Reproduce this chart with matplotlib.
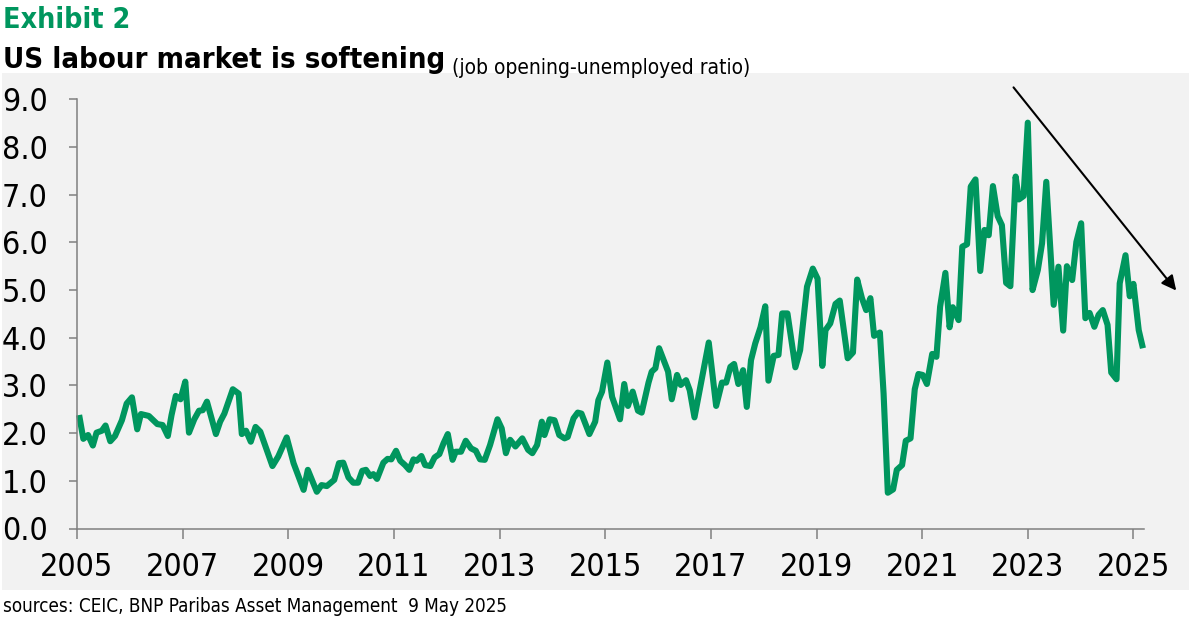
import matplotlib
matplotlib.use("Agg")
import matplotlib.pyplot as plt
from matplotlib.patches import Rectangle

# ratio des offres d'emploi / chômeurs (lecture graphique)
years = [
    2005.04, 2005.12, 2005.21, 2005.30, 2005.37, 2005.47, 2005.54, 2005.63, 2005.72, 2005.85,
    2005.94, 2006.04, 2006.14, 2006.21, 2006.36, 2006.52, 2006.62, 2006.72, 2006.79, 2006.87,
    2006.96, 2007.05, 2007.12, 2007.22, 2007.31, 2007.38, 2007.46, 2007.63, 2007.71, 2007.79,
    2007.95, 2008.06, 2008.12, 2008.20, 2008.29, 2008.38, 2008.47, 2008.70, 2008.81, 2008.97,
    2009.10, 2009.29, 2009.37, 2009.54, 2009.63, 2009.73, 2009.87, 2009.96, 2010.04, 2010.14,
    2010.23, 2010.32, 2010.40, 2010.47, 2010.55, 2010.61, 2010.68, 2010.80, 2010.88, 2010.95,
    2011.04, 2011.12, 2011.21, 2011.29, 2011.37, 2011.43, 2011.52, 2011.59, 2011.69, 2011.77,
    2011.86, 2011.94, 2012.02, 2012.11, 2012.17, 2012.27, 2012.36, 2012.46, 2012.55, 2012.63,
    2012.72, 2012.82, 2012.96, 2013.04, 2013.12, 2013.20, 2013.30, 2013.43, 2013.54, 2013.62,
    2013.71, 2013.80, 2013.85, 2013.95, 2014.04, 2014.13, 2014.23, 2014.29, 2014.40, 2014.48,
    2014.55, 2014.70, 2014.81, 2014.87, 2014.94, 2015.04, 2015.13, 2015.28, 2015.36, 2015.43,
    2015.52, 2015.62, 2015.69, 2015.82, 2015.88, 2015.95, 2016.02, 2016.19, 2016.26, 2016.36,
    2016.43, 2016.53, 2016.60, 2016.69, 2016.96, 2017.10, 2017.21, 2017.29, 2017.37, 2017.44,
    2017.52, 2017.61, 2017.68, 2017.76, 2017.84, 2017.94, 2018.03, 2018.09, 2018.19, 2018.28,
    2018.35, 2018.45, 2018.60, 2018.69, 2018.82, 2018.93, 2019.02, 2019.11, 2019.17, 2019.26,
    2019.36, 2019.44, 2019.59, 2019.69, 2019.77, 2019.86, 2019.94, 2020.02, 2020.09, 2020.20,
    2020.27, 2020.35, 2020.45, 2020.52, 2020.62, 2020.69, 2020.78, 2020.86, 2020.93, 2021.01,
    2021.09, 2021.19, 2021.27, 2021.34, 2021.44, 2021.52, 2021.58, 2021.69, 2021.76, 2021.85,
    2021.92, 2022.01, 2022.10, 2022.18, 2022.26, 2022.34, 2022.43, 2022.51, 2022.59, 2022.67,
    2022.77, 2022.83, 2022.92, 2023.00, 2023.09, 2023.19, 2023.27, 2023.35, 2023.49, 2023.58,
    2023.67, 2023.74, 2023.84, 2023.92, 2024.01, 2024.09, 2024.17, 2024.26, 2024.34, 2024.42,
    2024.51, 2024.58, 2024.68, 2024.74, 2024.85, 2024.93, 2025.00, 2025.10, 2025.18,
]
ratio = [
    2.38, 1.88, 1.96, 1.74, 2.01, 2.05, 2.16, 1.83, 1.94, 2.27,
    2.62, 2.75, 2.08, 2.40, 2.36, 2.19, 2.17, 1.94, 2.38, 2.78,
    2.71, 3.08, 2.01, 2.29, 2.47, 2.48, 2.66, 1.98, 2.24, 2.41,
    2.92, 2.83, 1.98, 2.05, 1.82, 2.13, 2.03, 1.31, 1.51, 1.91,
    1.37, 0.81, 1.23, 0.77, 0.91, 0.89, 1.02, 1.37, 1.38, 1.07,
    0.96, 0.96, 1.21, 1.23, 1.10, 1.14, 1.04, 1.38, 1.46, 1.45,
    1.63, 1.42, 1.33, 1.23, 1.45, 1.42, 1.52, 1.33, 1.31, 1.49,
    1.56, 1.79, 1.98, 1.44, 1.61, 1.61, 1.84, 1.68, 1.63, 1.45,
    1.44, 1.75, 2.29, 2.10, 1.58, 1.86, 1.72, 1.89, 1.65, 1.58,
    1.75, 2.24, 1.96, 2.29, 2.27, 1.96, 1.89, 1.92, 2.31, 2.43,
    2.41, 1.98, 2.24, 2.69, 2.87, 3.48, 2.76, 2.29, 3.03, 2.57,
    2.87, 2.47, 2.43, 3.06, 3.29, 3.36, 3.78, 3.29, 2.71, 3.22,
    3.01, 3.11, 2.90, 2.33, 3.90, 2.57, 3.06, 3.06, 3.39, 3.45,
    3.03, 3.32, 2.55, 3.53, 3.88, 4.22, 4.66, 3.10, 3.62, 3.64,
    4.51, 4.51, 3.38, 3.74, 5.07, 5.45, 5.24, 3.41, 4.16, 4.30,
    4.71, 4.78, 3.57, 3.69, 5.22, 4.83, 4.58, 4.83, 4.04, 4.11,
    2.83, 0.75, 0.82, 1.23, 1.33, 1.84, 1.89, 2.92, 3.24, 3.22,
    3.03, 3.66, 3.60, 4.65, 5.36, 4.22, 4.64, 4.37, 5.91, 5.96,
    7.17, 7.32, 5.40, 6.26, 6.15, 7.18, 6.55, 6.36, 5.15, 5.08,
    7.38, 6.90, 6.97, 8.51, 5.00, 5.42, 5.98, 7.27, 4.69, 5.49,
    4.15, 5.50, 5.21, 6.01, 6.40, 4.41, 4.52, 4.23, 4.48, 4.58,
    4.27, 3.27, 3.13, 5.14, 5.73, 4.87, 5.13, 4.16, 3.78,
]
year_ticks = [2005, 2007, 2009, 2011, 2013, 2015, 2017, 2019, 2021, 2023, 2025]
value_ticks = [0, 1, 2, 3, 4, 5, 6, 7, 8, 9]

# flèche de tendance (début 2023 -> après 2025)
arrow_start = (2022.73, 9.25)
arrow_end = (2025.81, 4.99)

GREEN = "#00965e"
GREY_BG = "#f2f2f2"
AXIS = "#808080"

plt.rcParams["font.family"] = ["DejaVu Sans"]
plt.rcParams["font.stretch"] = "condensed"

fig = plt.figure(figsize=(11.89, 6.21), dpi=100)
W, H = 1189, 621

# fond gris du graphique
fig.patches.append(Rectangle((2 / W, 1 - 590 / H), 1, (590 - 73) / H,
                             transform=fig.transFigure, facecolor=GREY_BG,
                             edgecolor="none", zorder=0))

ax = fig.add_axes([77 / W, 1 - 528.5 / H, (1144 - 77) / W, (528.5 - 99.3) / H])
ax.set_facecolor("none")
ax.set_zorder(2)

ax.plot(years, ratio, color=GREEN, lw=4.4, solid_joinstyle="round",
        solid_capstyle="butt", clip_on=False)

ax.set_xlim(2005, 2025.2)
ax.set_ylim(0, 9)
ax.set_xticks(year_ticks)
ax.set_xticklabels([str(y) for y in year_ticks])
ax.set_yticks(value_ticks)
ax.set_yticklabels([f"{v:.1f}" for v in value_ticks])

for s in ["top", "right"]:
    ax.spines[s].set_visible(False)
for s in ["left", "bottom"]:
    ax.spines[s].set_color(AXIS)
    ax.spines[s].set_linewidth(1.1)

ax.tick_params(axis="x", direction="out", length=7, width=1.1, color=AXIS,
               labelsize=23, pad=10)
ax.tick_params(axis="y", direction="out", length=6, width=1.1, color=AXIS,
               labelsize=23, pad=15)

ax.annotate("", xy=arrow_end, xytext=arrow_start,
            arrowprops=dict(arrowstyle="-|>", color="black", lw=1.5,
                            mutation_scale=22, shrinkA=0, shrinkB=0),
            annotation_clip=False)

# titres
fig.text(3 / W, 1 - 28 / H, "Exhibit 2", color=GREEN, fontsize=20.5,
         fontweight="bold", va="baseline", ha="left", zorder=3)
t = fig.text(3 / W, 1 - 68 / H, "US labour market is softening", color="black",
             fontsize=21, fontweight="bold", va="baseline", ha="left", zorder=3)
ax.annotate("(job opening-unemployed ratio)", xy=(1, 0), xycoords=t,
            xytext=(5, 0), textcoords="offset points", fontsize=15,
            va="baseline", ha="left", color="black")

fig.text(3 / W, 1 - 612 / H, "sources: CEIC, BNP Paribas Asset Management  9 May 2025",
         fontsize=13.5, va="baseline", ha="left", color="black")

fig.savefig("out.png", dpi=100, facecolor="white")
